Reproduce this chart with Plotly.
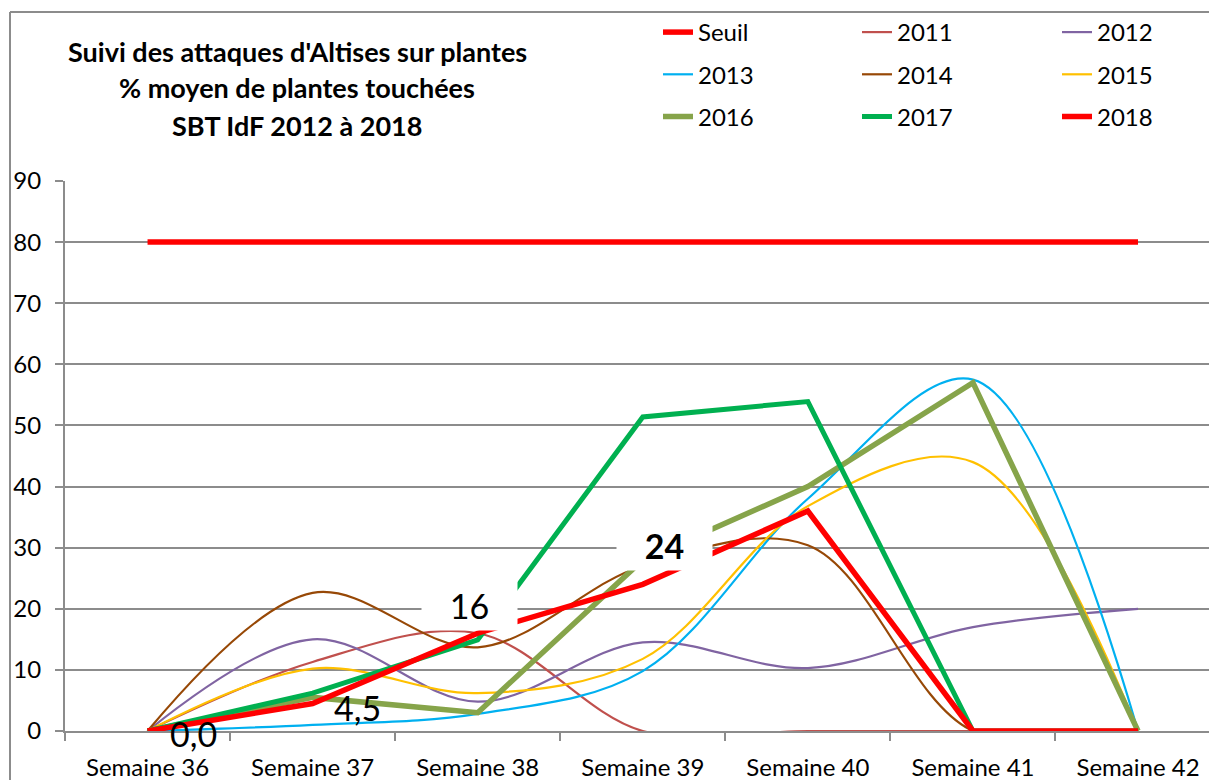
import plotly.graph_objects as go

weeks = ["Semaine 36", "Semaine 37", "Semaine 38", "Semaine 39", "Semaine 40", "Semaine 41", "Semaine 42"]

seuil = [80, 80, 80, 80, 80, 80, 80]
y2011 = [0, 11.3, 16, 0, 0, 0, 0]
y2012 = [0, 15, 4.8, 14.5, 10.3, 17, 20]
y2013 = [0, 1.0, 2.8, 9.8, 38, 57.5, 0]
y2014 = [0, 22.6, 13.7, 27, 30.4, 0, 0]
y2015 = [0, 10.2, 6.2, 11.8, 36.8, 44, 0]
y2016 = [0, 5.5, 3.0, 28, 40, 57, 0]
y2017 = [0, 6.2, 14.9, 51.4, 53.9, 0, 0]
y2018 = [0, 4.5, 16, 24, 36, 0, 0]

labels_2018 = ["0,0", "4,5", "16", "24"]

title_lines = ["Suivi des attaques d'Altises sur plantes",
               "% moyen de plantes touchées",
               "SBT IdF 2012 à 2018"]

FONT = "Lato"
GRID = "#8c8c8c"

series = [
    ("Seuil", seuil, "#FF0000", 5.5, "linear", "legend", "g0"),
    ("2011", y2011, "#C0504D", 2.2, "spline", "legend2", "g1"),
    ("2012", y2012, "#8064A2", 2.2, "spline", "legend3", "g2"),
    ("2013", y2013, "#00B0F0", 2.2, "spline", "legend", "g3"),
    ("2014", y2014, "#974806", 2.2, "spline", "legend2", "g4"),
    ("2015", y2015, "#FFC000", 2.2, "spline", "legend3", "g5"),
    ("2016", y2016, "#86A44A", 5.5, "linear", "legend", "g6"),
    ("2017", y2017, "#00B050", 5, "linear", "legend2", "g7"),
    ("2018", y2018, "#FF0000", 5.5, "linear", "legend3", "g8"),
]

fig = go.Figure()
for name, vals, color, width, shape, leg, grp in series:
    line = dict(color=color, width=width, shape=shape)
    if shape == "spline":
        line["smoothing"] = 1.0
    fig.add_trace(go.Scatter(x=weeks, y=vals, mode="lines", name=name, line=line,
                             legend=leg, legendgroup=grp))

W, H = 1209, 780
ml, mr, mt, mb = 65, 0, 181, 49
pw = W - ml - mr
ph = H - mt - mb


def px_to_paper_x(px):
    return (px - ml) / pw


def px_to_paper_y(py):
    return (H - mb - py) / ph


# data labels for 2018
lab_specs = [
    (0, dict(xshift=46, yshift=-2, bold=False, box=False)),
    (1, dict(xshift=45, yshift=-4, bold=False, box=False)),
    (2, dict(xshift=-8, yshift=28, bold=False, box=True)),
    (3, dict(xshift=22, yshift=39, bold=True, box=True)),
]
for i, sp in lab_specs:
    txt = labels_2018[i]
    if sp["bold"]:
        txt = "<b>" + txt + "</b>"
    ann = dict(x=weeks[i], y=y2018[i], xref="x", yref="y", text=txt, showarrow=False,
               xshift=sp["xshift"], yshift=sp["yshift"],
               font=dict(family=FONT, size=34, color="black"))
    if sp["box"]:
        ann.update(bgcolor="white", width=93, height=48)
    fig.add_annotation(**ann)

# title lines
for line_txt, ypx in zip(title_lines, [51, 88, 125]):
    fig.add_annotation(x=px_to_paper_x(297), y=px_to_paper_y(ypx), xref="paper", yref="paper",
                       text="<b>" + line_txt + "</b>", showarrow=False,
                       xanchor="center", yanchor="middle",
                       font=dict(family=FONT, size=27, color="black"))

# chart area border (top & left visible)
bx = px_to_paper_x(10)
by = px_to_paper_y(12)
fig.add_shape(type="line", xref="paper", yref="paper", x0=bx, y0=by, x1=1.05, y1=by,
              line=dict(color=GRID, width=2))
fig.add_shape(type="line", xref="paper", yref="paper", x0=bx, y0=by, x1=bx, y1=-0.2,
              line=dict(color=GRID, width=2))

leg_common = dict(xanchor="left", yanchor="top", bgcolor="rgba(0,0,0,0)",
                  font=dict(family=FONT, size=24, color="black"), tracegroupgap=8,
                  orientation="v")
ly = px_to_paper_y(10)
fig.update_layout(
    legend=dict(x=px_to_paper_x(658), y=ly, **leg_common),
    legend2=dict(x=px_to_paper_x(857), y=ly, **leg_common),
    legend3=dict(x=px_to_paper_x(1057), y=ly, **leg_common),
)

fig.update_layout(
    width=W, height=H,
    margin=dict(l=ml, r=mr, t=mt, b=mb, pad=0, autoexpand=False),
    paper_bgcolor="white", plot_bgcolor="white",
    showlegend=True,
    font=dict(family=FONT, color="black"),
    xaxis=dict(type="category", categoryorder="array", categoryarray=weeks,
               range=[-0.5, 6.43], showgrid=False, showline=True, linecolor=GRID, linewidth=2,
               ticks="outside", tickson="boundaries", ticklen=8, tickcolor=GRID, tickwidth=2,
               tickfont=dict(family=FONT, size=24, color="black"), ticklabelstandoff=14,
               zeroline=False, fixedrange=True),
    yaxis=dict(range=[0, 90], dtick=10, showgrid=True, gridcolor=GRID, gridwidth=2,
               showline=True, linecolor=GRID, linewidth=2, ticks="outside", ticklen=8,
               tickcolor=GRID, tickwidth=2, zeroline=False,
               tickfont=dict(family=FONT, size=24, color="black"), ticklabelstandoff=9,
               fixedrange=True),
)

fig.write_html("out.html", config={"displayModeBar": False},
               post_script="document.body.style.margin='0';document.body.style.overflow='hidden';")
